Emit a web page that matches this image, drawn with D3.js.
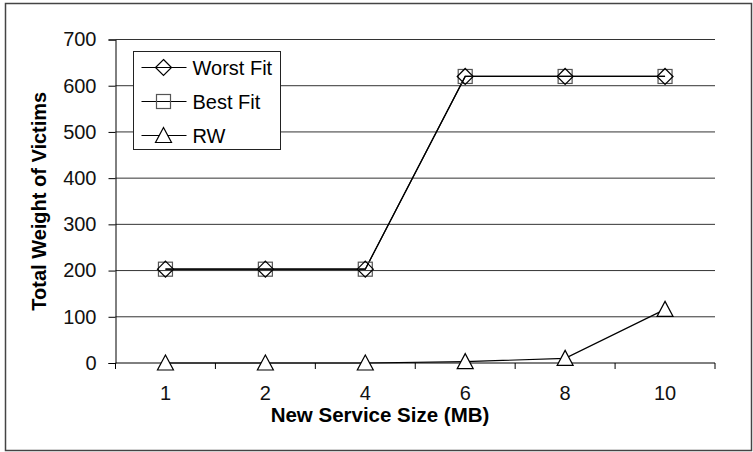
<!DOCTYPE html>
<html>
  <head>
    <meta charset="utf-8">
    <script src="https://d3js.org/d3.v7.min.js"></script>
    <style>
      body { margin: 0; background: #fff; }
      text { font-family: "Liberation Sans", Arial, sans-serif; }
    </style>
  </head>
  <body>
    <div id="my_chart"></div>
    <script>
      // data
      var sizes = ["1", "2", "4", "6", "8", "10"];
      var worstFit = [203, 203, 203, 620, 620, 620];
      var bestFit = [203, 203, 203, 620, 620, 620];
      var rw = [0, 0, 0, 3, 10, 116];
      var yTicks = [0, 100, 200, 300, 400, 500, 600, 700];

      var W = 753, H = 452;
      var margin = {top: 39.5, right: 38, bottom: 89, left: 115.5};

      var svg = d3.select("#my_chart").append("svg")
          .attr("width", W).attr("height", H);

      // outer frame
      svg.append("rect")
          .attr("x", 5.5).attr("y", 3.5)
          .attr("width", 746).attr("height", 447)
          .attr("fill", "white").attr("stroke", "#444").attr("stroke-width", 1.5);

      var x = d3.scaleBand().domain(sizes).range([margin.left, W - margin.right]);
      var y = d3.scaleLinear().domain([0, 700]).range([H - margin.bottom, margin.top]);

      // gridlines
      svg.append("g").selectAll("line")
          .data(yTicks.filter(function(d) { return d > 0; }))
          .enter().append("line")
            .attr("x1", margin.left).attr("x2", W - margin.right)
            .attr("y1", function(d) { return y(d); })
            .attr("y2", function(d) { return y(d); })
            .attr("stroke", "#333").attr("stroke-width", 1);

      // y axis
      var yAxis = svg.append("g")
          .attr("transform", "translate(" + margin.left + ",0)")
          .call(d3.axisLeft(y).tickValues(yTicks).tickSize(7).tickPadding(12));
      yAxis.select(".domain").attr("stroke", "#000");
      yAxis.selectAll(".tick line").attr("stroke", "#000");
      yAxis.selectAll("text").attr("font-size", 20).attr("fill", "#111")
          .style("font-family", "'Liberation Sans', Arial, sans-serif");

      // x axis, ticks on band edges
      var xAxisG = svg.append("g")
          .attr("transform", "translate(0," + y(0) + ")");
      xAxisG.append("line")
          .attr("x1", margin.left).attr("x2", W - margin.right)
          .attr("stroke", "#000");
      var edges = sizes.map(function(d) { return x(d); }).concat([x.range()[1]]);
      xAxisG.selectAll(".edge").data(edges).enter().append("line")
          .attr("x1", function(d) { return d; }).attr("x2", function(d) { return d; })
          .attr("y1", 0).attr("y2", 6).attr("stroke", "#000");
      xAxisG.selectAll(".lab").data(sizes).enter().append("text")
          .attr("x", function(d) { return x(d) + x.bandwidth() / 2; })
          .attr("y", 37)
          .attr("text-anchor", "middle")
          .attr("font-size", 20).attr("fill", "#111")
          .text(function(d) { return d; });

      // axis titles
      svg.append("text")
          .attr("x", 380)
          .attr("y", 422)
          .attr("text-anchor", "middle")
          .attr("font-size", 20.5).attr("font-weight", "bold")
          .text("New Service Size (MB)");
      svg.append("text")
          .attr("transform", "translate(46," + (y(350)) + ") rotate(-90)")
          .attr("text-anchor", "middle")
          .attr("font-size", 20).attr("font-weight", "bold")
          .text("Total Weight of Victims");

      // markers
      function marker(g, type, cx, cy) {
        if (type === "diamond") {
          g.append("path")
              .attr("d", "M" + cx + "," + (cy - 8) + "L" + (cx + 8) + "," + cy +
                  "L" + cx + "," + (cy + 8) + "L" + (cx - 8) + "," + cy + "Z")
              .attr("fill", "none").attr("stroke", "#000").attr("stroke-width", 1.2);
        } else if (type === "square") {
          g.append("rect")
              .attr("x", cx - 7).attr("y", cy - 7).attr("width", 14).attr("height", 14)
              .attr("fill", "none").attr("stroke", "#555").attr("stroke-width", 1.2);
        } else {
          g.append("path")
              .attr("d", "M" + cx + "," + (cy - 8) + "L" + (cx + 8) + "," + (cy + 7) +
                  "L" + (cx - 8) + "," + (cy + 7) + "Z")
              .attr("fill", "white").attr("stroke", "#000").attr("stroke-width", 1.2);
        }
      }

      var series = [
        {name: "Worst Fit", values: worstFit, type: "diamond"},
        {name: "Best Fit", values: bestFit, type: "square"},
        {name: "RW", values: rw, type: "triangle"}
      ];

      var line = d3.line()
          .x(function(d, i) { return x(sizes[i]) + x.bandwidth() / 2; })
          .y(function(d) { return y(d); });

      var plot = svg.append("g");
      series.forEach(function(s) {
        plot.append("path")
            .attr("d", line(s.values))
            .attr("fill", "none").attr("stroke", "#000").attr("stroke-width", 1.2);
      });
      series.slice().reverse().forEach(function(s) {
        s.values.forEach(function(v, i) {
          marker(plot, s.type, x(sizes[i]) + x.bandwidth() / 2, y(v));
        });
      });

      // legend
      var lg = svg.append("g").attr("transform", "translate(133.5,51.5)");
      lg.append("rect").attr("width", 147).attr("height", 98)
          .attr("fill", "white").attr("stroke", "#222");
      series.forEach(function(s, i) {
        var cy = 16 + i * 34;
        lg.append("line").attr("x1", 8).attr("x2", 53)
            .attr("y1", cy).attr("y2", cy).attr("stroke", "#000");
        marker(lg, s.type, 30, cy);
        lg.append("text").attr("x", 59).attr("y", cy + 7)
            .attr("font-size", 20).text(s.name);
      });
    </script>
  </body>
</html>
